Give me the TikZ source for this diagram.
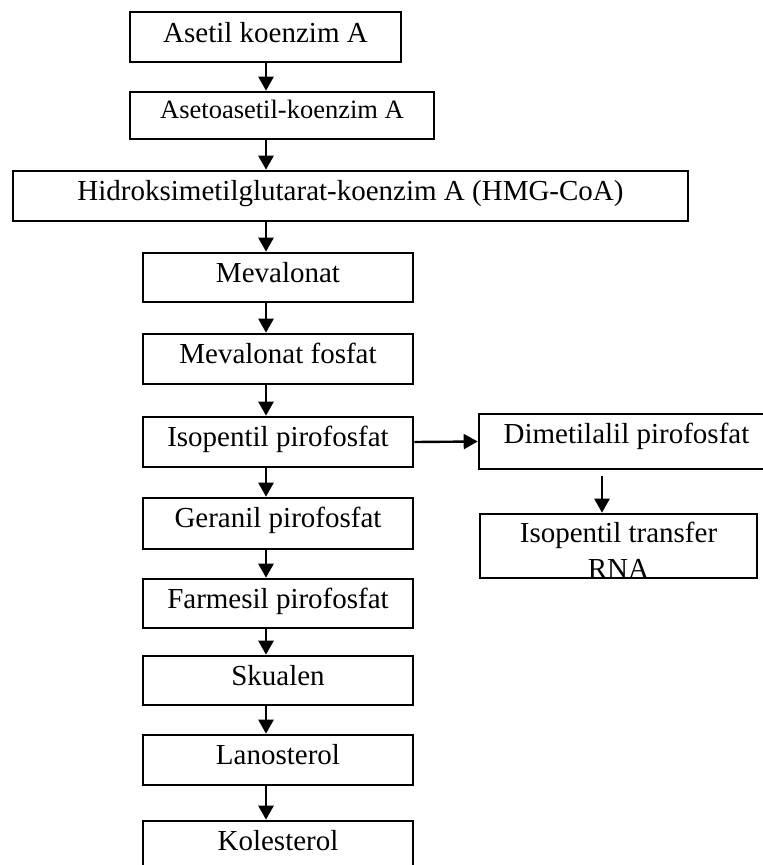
\documentclass[tikz,border=0pt]{standalone}
\usepackage{fontspec}
\setmainfont{Liberation Serif}
\usetikzlibrary{arrows.meta}
\tikzset{
  stepbox/.style={draw, line width=2.6pt, inner sep=0pt, anchor=center,
    font=\fontsize{29}{33}\selectfont, text height=29pt},
  arr/.style={line width=2.4pt, -{Triangle[width=15pt,length=14pt]}},
  plain/.style={inner sep=0pt, font=\fontsize{29}{33}\selectfont}
}
\begin{document}
\begin{tikzpicture}[x=1pt,y=-1pt]
\useasboundingbox (0,0) rectangle (763,865);
\clip (0,0) rectangle (763,865);
\coordinate (ax) at (266,0);
\coordinate (rx) at (602,0);
\node[stepbox, minimum width=271pt, text height=30pt, text depth=20pt] (b1) at (265.5,37) {Asetil koenzim A};
\node[stepbox, minimum width=304pt, text height=26pt, text depth=21pt, font=\fontsize{26.5}{30}\selectfont] (b2) at (282,115.5) {Asetoasetil-koenzim A};
\node[stepbox, minimum width=675pt, text depth=21pt] (b3) at (350.5,196) {Hidroksimetilglutarat-koenzim A (HMG-CoA)};
\node[stepbox, minimum width=270pt, text depth=20pt] (b4) at (278,277.5) {Mevalonat};
\node[stepbox, minimum width=270pt, text depth=21pt] (b5) at (278,359) {Mevalonat fosfat};
\node[stepbox, minimum width=270pt, text depth=21pt] (b6) at (278,442) {Isopentil pirofosfat};
\node[stepbox, minimum width=295pt, text depth=26pt] (b7) at (626.5,441.5) {Dimetilalil pirofosfat};
\node[stepbox, minimum width=277pt, text height=28pt, text depth=36pt] (b8) at (618.5,546) {Isopentil transfer};
\node[stepbox, minimum width=270pt, text depth=22pt] (b9) at (278,523.5) {Geranil pirofosfat};
\node[stepbox, minimum width=270pt, text depth=20pt] (b10) at (278,603.5) {Farmesil pirofosfat};
\node[stepbox, minimum width=270pt, text depth=20pt] (b11) at (278,680.5) {Skualen};
\node[stepbox, minimum width=270pt, text depth=21pt] (b12) at (278,760) {Lanosterol};
\node[stepbox, minimum width=270pt, text depth=21pt] (b13) at (278,846) {Kolesterol};
\begin{scope}
\clip (b8.north west) rectangle ([yshift=1.3pt]b8.south east);
\node[plain, anchor=base] (rna) at ([yshift=-66pt]b8.north) {RNA};
\end{scope}
\draw[arr] (b1.south -| ax) -- (b2.north -| ax);
\draw[arr] (b2.south -| ax) -- (b3.north -| ax);
\draw[arr] (b3.south -| ax) -- (b4.north -| ax);
\draw[arr] (b4.south -| ax) -- (b5.north -| ax);
\draw[arr] (b5.south -| ax) -- (b6.north -| ax);
\draw[arr] (b6.south -| ax) -- (b9.north -| ax);
\draw[arr] (b9.south -| ax) -- (b10.north -| ax);
\draw[arr] (b10.south -| ax) -- (b11.north -| ax);
\draw[arr] (b11.south -| ax) -- (b12.north -| ax);
\draw[arr] (b12.south -| ax) -- (b13.north -| ax);
\draw[arr] (b6.east) -- (b7.west);
\draw[arr, shorten <=6pt] (b7.south -| rx) -- (b8.north -| rx);
\end{tikzpicture}
\end{document}
